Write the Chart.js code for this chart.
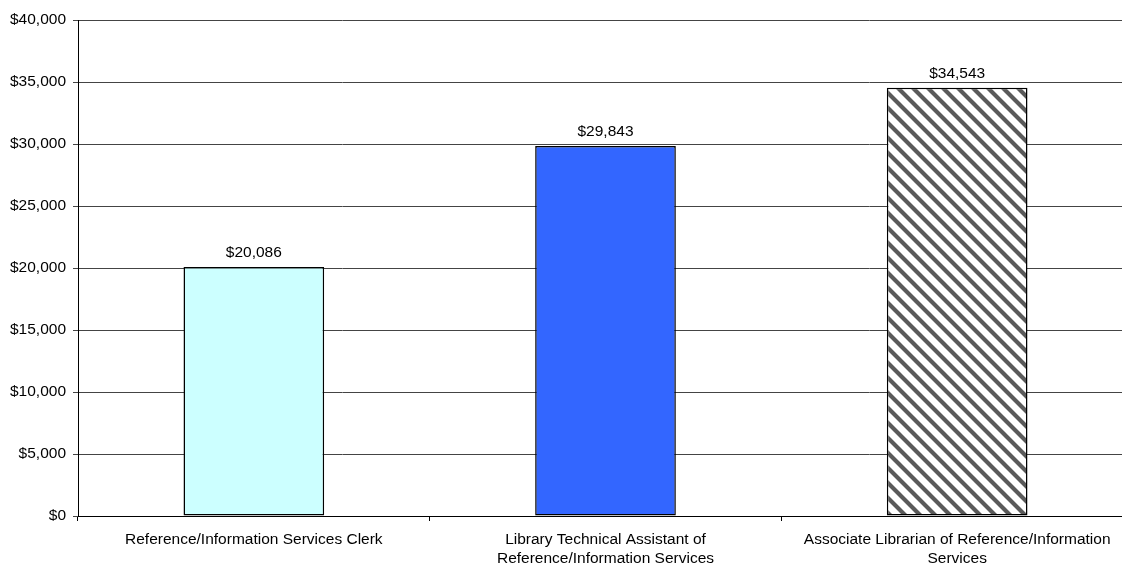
<!DOCTYPE html>
<html>
<head>
<meta charset="utf-8">
<script src="https://cdn.jsdelivr.net/npm/chart.js@4/dist/chart.umd.min.js"></script>
<style>
  html, body { margin: 0; padding: 0; background: #fff; overflow: hidden; }
</style>
</head>
<body>
<canvas id="canvas" width="1140" height="564"></canvas>
<script>
// chart values
var categories = [
    "Reference/Information Services Clerk",
    ["Library Technical Assistant of", "Reference/Information Services"],
    ["Associate Librarian of Reference/Information", "Services"]
];
var salaries = [20086, 29843, 34543];
var yTicks = [0, 5000, 10000, 15000, 20000, 25000, 30000, 35000, 40000];

var money = function(v) {
    return '$' + Number(v).toLocaleString('en-US');
};

// diagonal hatch for the third bar
var makeHatch = function() {
    var s = 15;
    var c = document.createElement('canvas');
    c.width = s; c.height = s;
    var g = c.getContext('2d');
    g.fillStyle = '#fff';
    g.fillRect(0, 0, s, s);
    g.strokeStyle = '#5a5a5a';
    g.lineWidth = 4.2;
    g.beginPath();
    g.moveTo(-2, -2); g.lineTo(s + 2, s + 2);
    g.moveTo(-2, s - 2); g.lineTo(2, s + 2);
    g.moveTo(s - 2, -2); g.lineTo(s + 2, 2);
    g.stroke();
    return g.createPattern(c, 'repeat');
};

var valueLabels = {
    id: 'valueLabels',
    afterDatasetsDraw: function(chart) {
        var ctx = chart.ctx;
        var meta = chart.getDatasetMeta(0);
        ctx.save();
        ctx.font = '15.5px "Liberation Sans", Arial, sans-serif';
        ctx.fillStyle = '#000';
        ctx.textAlign = 'center';
        ctx.textBaseline = 'alphabetic';
        meta.data.forEach(function(bar, i) {
            ctx.fillText(money(chart.data.datasets[0].data[i]), bar.x, bar.y - 10);
        });
        ctx.restore();
    }
};

Chart.defaults.font.family = '"Liberation Sans", Arial, sans-serif';
Chart.defaults.font.size = 15.5;
Chart.defaults.color = '#000';

var ctx = document.getElementById('canvas');
var barGraph = new Chart(ctx, {
    type: 'bar',
    data: {
        labels: categories,
        datasets: [{
            data: salaries,
            backgroundColor: ['#CCFFFF', '#3366FF', makeHatch()],
            borderColor: '#000',
            borderWidth: 1.5,
            borderSkipped: false,
            categoryPercentage: 1,
            barPercentage: 0.4
        }]
    },
    options: {
        responsive: false,
        animation: false,
        layout: { padding: { top: 20, right: 7, bottom: 0, left: 0 } },
        plugins: {
            legend: { display: false },
            tooltip: { enabled: false }
        },
        scales: {
            x: {
                afterFit: function(scale) { scale.height = 48; },
                grid: { drawOnChartArea: false, drawTicks: true, tickLength: 5, color: '#000' },
                border: { color: '#000', width: 1 },
                ticks: { maxRotation: 0, autoSkip: false, padding: 9, font: { lineHeight: 1.25 } }
            },
            y: {
                min: 0,
                max: 40000,
                afterFit: function(scale) { scale.width = 78; },
                afterBuildTicks: function(scale) {
                    scale.ticks = yTicks.map(function(v) { return { value: v }; });
                },
                grid: { color: '#444', lineWidth: 1, tickLength: 5 },
                border: { color: '#000', width: 1 },
                ticks: { padding: 7, callback: function(v) { return money(v); } }
            }
        }
    },
    plugins: [valueLabels]
});
</script>
</body>
</html>
